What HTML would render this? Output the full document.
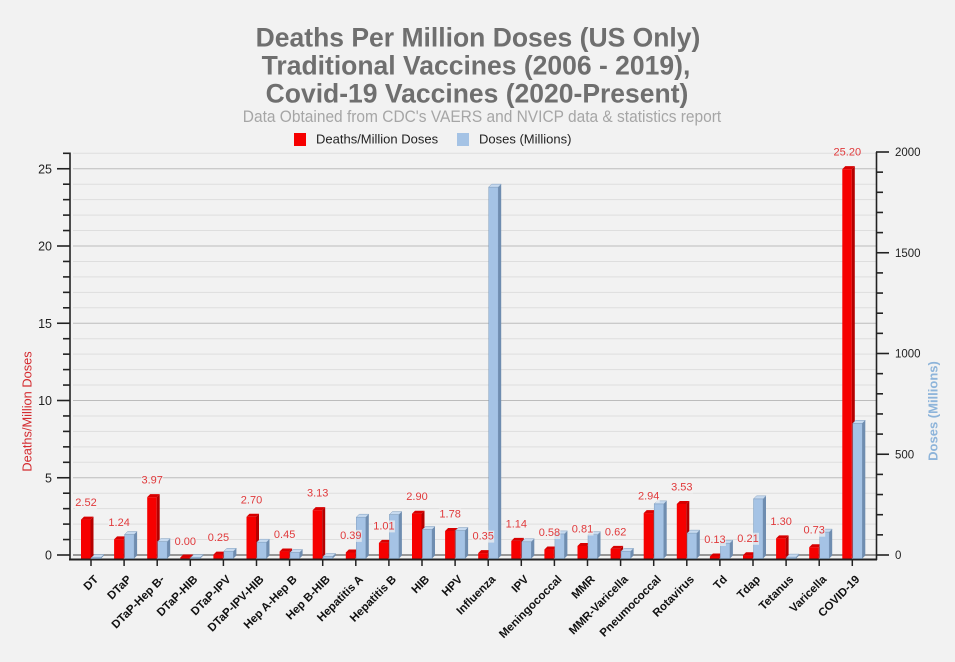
<!DOCTYPE html>
<html><head><meta charset="utf-8"><style>
html,body{margin:0;padding:0;background:#f2f2f2;}
svg{display:block;}
text{font-family:"Liberation Sans",Arial,sans-serif;}
.t{font-size:26.5px;font-weight:bold;fill:#6f6f6f;}
.sub{font-size:15.5px;fill:#a6a6a6;}
.lg{font-size:13px;fill:#222;}
.ax{font-size:12.5px;fill:#222;}
.axr{font-size:11.5px;fill:#222;}
.xl{font-size:11.5px;font-weight:bold;fill:#111;}
.vl{font-size:11px;fill:#e0393b;text-anchor:middle;}
.rf{fill:#f60000;}
.rs{fill:#b50000;}
.rt{fill:#d80000;}
.bf{fill:#a5c3e5;stroke:#7f9dbd;stroke-width:0.5;}
.bs{fill:#6f8db0;}
.bt{fill:#c7daef;stroke:#7f9dbd;stroke-width:0.5;}
.lb{fill:#f2f2f2;opacity:0.7;}
</style></head><body>
<svg width="955" height="662" viewBox="0 0 955 662" xmlns="http://www.w3.org/2000/svg">
<rect width="955" height="662" fill="#f2f2f2"/>
<!-- titles -->
<text class="t" x="478" y="46.5" text-anchor="middle">Deaths Per Million Doses (US Only)</text>
<text class="t" x="476" y="74.5" text-anchor="middle">Traditional Vaccines (2006 - 2019),</text>
<text class="t" x="477" y="102.5" text-anchor="middle">Covid-19 Vaccines (2020-Present)</text>
<text class="sub" transform="translate(482,122) scale(1,1.1)" text-anchor="middle">Data Obtained from CDC's VAERS and NVICP data &amp; statistics report</text>
<!-- legend -->
<rect x="294" y="133" width="12" height="13" fill="#f60000"/>
<text class="lg" x="316" y="143.5">Deaths/Million Doses</text>
<rect x="457" y="133" width="12" height="13" fill="#a5c3e5"/>
<text class="lg" x="479" y="143.5">Doses (Millions)</text>

<!-- gridlines -->
<g stroke-width="1">
<line x1="73" x2="876" y1="153.3" y2="153.3" stroke="#dedede"/>
<line x1="73" x2="876" y1="168.75" y2="168.75" stroke="#bcbcbc"/>
<line x1="73" x2="876" y1="184.2" y2="184.2" stroke="#dedede"/>
<line x1="73" x2="876" y1="199.65" y2="199.65" stroke="#dedede"/>
<line x1="73" x2="876" y1="215.1" y2="215.1" stroke="#dedede"/>
<line x1="73" x2="876" y1="230.55" y2="230.55" stroke="#dedede"/>
<line x1="73" x2="876" y1="246" y2="246" stroke="#bcbcbc"/>
<line x1="73" x2="876" y1="261.45" y2="261.45" stroke="#dedede"/>
<line x1="73" x2="876" y1="276.9" y2="276.9" stroke="#dedede"/>
<line x1="73" x2="876" y1="292.35" y2="292.35" stroke="#dedede"/>
<line x1="73" x2="876" y1="307.8" y2="307.8" stroke="#dedede"/>
<line x1="73" x2="876" y1="323.25" y2="323.25" stroke="#bcbcbc"/>
<line x1="73" x2="876" y1="338.7" y2="338.7" stroke="#dedede"/>
<line x1="73" x2="876" y1="354.15" y2="354.15" stroke="#dedede"/>
<line x1="73" x2="876" y1="369.6" y2="369.6" stroke="#dedede"/>
<line x1="73" x2="876" y1="385.05" y2="385.05" stroke="#dedede"/>
<line x1="73" x2="876" y1="400.5" y2="400.5" stroke="#bcbcbc"/>
<line x1="73" x2="876" y1="415.95" y2="415.95" stroke="#dedede"/>
<line x1="73" x2="876" y1="431.4" y2="431.4" stroke="#dedede"/>
<line x1="73" x2="876" y1="446.85" y2="446.85" stroke="#dedede"/>
<line x1="73" x2="876" y1="462.3" y2="462.3" stroke="#dedede"/>
<line x1="73" x2="876" y1="477.75" y2="477.75" stroke="#bcbcbc"/>
<line x1="73" x2="876" y1="493.2" y2="493.2" stroke="#dedede"/>
<line x1="73" x2="876" y1="508.65" y2="508.65" stroke="#dedede"/>
<line x1="73" x2="876" y1="524.1" y2="524.1" stroke="#dedede"/>
<line x1="73" x2="876" y1="539.55" y2="539.55" stroke="#dedede"/>
<line x1="73" x2="876" y1="555" y2="555" stroke="#7a7a7a" stroke-width="1.5"/>
</g>

<!-- left axis -->
<g stroke="#222" stroke-width="1.6">
<line x1="70" x2="70" y1="152.5" y2="560"/>
<line x1="57" x2="70" y1="168.75" y2="168.75"/>
<line x1="57" x2="70" y1="246" y2="246"/>
<line x1="57" x2="70" y1="323.25" y2="323.25"/>
<line x1="57" x2="70" y1="400.5" y2="400.5"/>
<line x1="57" x2="70" y1="477.75" y2="477.75"/>
<line x1="57" x2="70" y1="555" y2="555"/>
<line x1="63" x2="70" y1="153.3" y2="153.3"/>
<line x1="63" x2="70" y1="184.2" y2="184.2"/>
<line x1="63" x2="70" y1="199.65" y2="199.65"/>
<line x1="63" x2="70" y1="215.1" y2="215.1"/>
<line x1="63" x2="70" y1="230.55" y2="230.55"/>
<line x1="63" x2="70" y1="261.45" y2="261.45"/>
<line x1="63" x2="70" y1="276.9" y2="276.9"/>
<line x1="63" x2="70" y1="292.35" y2="292.35"/>
<line x1="63" x2="70" y1="307.8" y2="307.8"/>
<line x1="63" x2="70" y1="338.7" y2="338.7"/>
<line x1="63" x2="70" y1="354.15" y2="354.15"/>
<line x1="63" x2="70" y1="369.6" y2="369.6"/>
<line x1="63" x2="70" y1="385.05" y2="385.05"/>
<line x1="63" x2="70" y1="415.95" y2="415.95"/>
<line x1="63" x2="70" y1="431.4" y2="431.4"/>
<line x1="63" x2="70" y1="446.85" y2="446.85"/>
<line x1="63" x2="70" y1="462.3" y2="462.3"/>
<line x1="63" x2="70" y1="493.2" y2="493.2"/>
<line x1="63" x2="70" y1="508.65" y2="508.65"/>
<line x1="63" x2="70" y1="524.1" y2="524.1"/>
<line x1="63" x2="70" y1="539.55" y2="539.55"/>
</g>
<g class="ax" text-anchor="end">
<text x="52" y="173.25" class="ax">25</text>
<text x="52" y="250.5" class="ax">20</text>
<text x="52" y="327.75" class="ax">15</text>
<text x="52" y="405" class="ax">10</text>
<text x="52" y="482.25" class="ax">5</text>
<text x="52" y="559.5" class="ax">0</text>
</g>

<!-- right axis -->
<g stroke="#222" stroke-width="1.6">
<line x1="876.5" x2="876.5" y1="152" y2="560"/>
<line x1="876" x2="889" y1="152" y2="152"/>
<line x1="876" x2="889" y1="252.75" y2="252.75"/>
<line x1="876" x2="889" y1="353.5" y2="353.5"/>
<line x1="876" x2="889" y1="454.25" y2="454.25"/>
<line x1="876" x2="889" y1="555" y2="555"/>
<line x1="876" x2="883" y1="172.15" y2="172.15"/>
<line x1="876" x2="883" y1="192.3" y2="192.3"/>
<line x1="876" x2="883" y1="212.45" y2="212.45"/>
<line x1="876" x2="883" y1="232.6" y2="232.6"/>
<line x1="876" x2="883" y1="272.9" y2="272.9"/>
<line x1="876" x2="883" y1="293.05" y2="293.05"/>
<line x1="876" x2="883" y1="313.2" y2="313.2"/>
<line x1="876" x2="883" y1="333.35" y2="333.35"/>
<line x1="876" x2="883" y1="373.65" y2="373.65"/>
<line x1="876" x2="883" y1="393.8" y2="393.8"/>
<line x1="876" x2="883" y1="413.95" y2="413.95"/>
<line x1="876" x2="883" y1="434.1" y2="434.1"/>
<line x1="876" x2="883" y1="474.4" y2="474.4"/>
<line x1="876" x2="883" y1="494.55" y2="494.55"/>
<line x1="876" x2="883" y1="514.7" y2="514.7"/>
<line x1="876" x2="883" y1="534.85" y2="534.85"/>
</g>
<text x="895" y="156" class="axr">2000</text>
<text x="895" y="256.75" class="axr">1500</text>
<text x="895" y="357.5" class="axr">1000</text>
<text x="895" y="458.25" class="axr">500</text>
<text x="895" y="559" class="axr">0</text>

<!-- axis titles -->
<text transform="translate(31.5,411.5) rotate(-90)" text-anchor="middle" style="font-size:12.8px;fill:#d42a2f;">Deaths/Million Doses</text>
<text transform="translate(937.5,411) rotate(-90)" text-anchor="middle" style="font-size:13px;font-weight:bold;fill:#8db4da;">Doses (Millions)</text>

<!-- bottom axis -->
<line x1="69" x2="877" y1="559.5" y2="559.5" stroke="#222" stroke-width="2"/>

<!-- categories -->
<g transform="translate(91,0)">
<rect class="rf" x="-10" y="519.57" width="9.5" height="38.93"/><path class="rs" d="M-0.5,519.57 l3,-3 V555.5 l-3,3 Z"/><path class="rt" d="M-10,519.57 l3,-3 h9.5 l-3,3 Z"/>
<rect class="bf" x="0.5" y="557.5" width="9.5" height="1"/><path class="bs" d="M10,557.5 l3,-3 V555.5 l-3,3 Z"/><path class="bt" d="M0.5,557.5 l3,-3 h9.5 l-3,3 Z"/>
<line x1="0" x2="0" y1="560" y2="566" stroke="#222" stroke-width="1.5"/>
<rect class="lb" x="-16" y="497" width="22" height="12"/><text class="vl" x="-5" y="506.07">2.52</text>
<text class="xl" transform="translate(8,580) rotate(-45)" text-anchor="end">DT</text>
</g>
<g transform="translate(124.1,0)">
<rect class="rf" x="-10" y="539.34" width="9.5" height="19.16"/><path class="rs" d="M-0.5,539.34 l3,-3 V555.5 l-3,3 Z"/><path class="rt" d="M-10,539.34 l3,-3 h9.5 l-3,3 Z"/>
<rect class="bf" x="0.5" y="534.52" width="9.5" height="23.98"/><path class="bs" d="M10,534.52 l3,-3 V555.5 l-3,3 Z"/><path class="bt" d="M0.5,534.52 l3,-3 h9.5 l-3,3 Z"/>
<line x1="0" x2="0" y1="560" y2="566" stroke="#222" stroke-width="1.5"/>
<rect class="lb" x="-16" y="516.8" width="22" height="12"/><text class="vl" x="-5" y="525.84">1.24</text>
<text class="xl" transform="translate(8,580) rotate(-45)" text-anchor="end">DTaP</text>
</g>
<g transform="translate(157.2,0)">
<rect class="rf" x="-10" y="497.16" width="9.5" height="61.34"/><path class="rs" d="M-0.5,497.16 l3,-3 V555.5 l-3,3 Z"/><path class="rt" d="M-10,497.16 l3,-3 h9.5 l-3,3 Z"/>
<rect class="bf" x="0.5" y="541.57" width="9.5" height="16.93"/><path class="bs" d="M10,541.57 l3,-3 V555.5 l-3,3 Z"/><path class="bt" d="M0.5,541.57 l3,-3 h9.5 l-3,3 Z"/>
<line x1="0" x2="0" y1="560" y2="566" stroke="#222" stroke-width="1.5"/>
<rect class="lb" x="-16" y="474.6" width="22" height="12"/><text class="vl" x="-5" y="483.66">3.97</text>
<text class="xl" transform="translate(8,580) rotate(-45)" text-anchor="end">DTaP-Hep B-</text>
</g>
<g transform="translate(190.3,0)">
<rect class="rf" x="-10" y="557.5" width="9.5" height="1"/><path class="rs" d="M-0.5,557.5 l3,-3 V555.5 l-3,3 Z"/><path class="rt" d="M-10,557.5 l3,-3 h9.5 l-3,3 Z"/>
<rect class="bf" x="0.5" y="557.5" width="9.5" height="1"/><path class="bs" d="M10,557.5 l3,-3 V555.5 l-3,3 Z"/><path class="bt" d="M0.5,557.5 l3,-3 h9.5 l-3,3 Z"/>
<line x1="0" x2="0" y1="560" y2="566" stroke="#222" stroke-width="1.5"/>
<rect class="lb" x="-16" y="536" width="22" height="12"/><text class="vl" x="-5" y="545">0.00</text>
<text class="xl" transform="translate(8,580) rotate(-45)" text-anchor="end">DTaP-HIB</text>
</g>
<g transform="translate(223.4,0)">
<rect class="rf" x="-10" y="554.64" width="9.5" height="3.86"/><path class="rs" d="M-0.5,554.64 l3,-3 V555.5 l-3,3 Z"/><path class="rt" d="M-10,554.64 l3,-3 h9.5 l-3,3 Z"/>
<rect class="bf" x="0.5" y="551.25" width="9.5" height="7.25"/><path class="bs" d="M10,551.25 l3,-3 V555.5 l-3,3 Z"/><path class="bt" d="M0.5,551.25 l3,-3 h9.5 l-3,3 Z"/>
<line x1="0" x2="0" y1="560" y2="566" stroke="#222" stroke-width="1.5"/>
<rect class="lb" x="-16" y="532.1" width="22" height="12"/><text class="vl" x="-5" y="541.14">0.25</text>
<text class="xl" transform="translate(8,580) rotate(-45)" text-anchor="end">DTaP-IPV</text>
</g>
<g transform="translate(256.5,0)">
<rect class="rf" x="-10" y="516.78" width="9.5" height="41.72"/><path class="rs" d="M-0.5,516.78 l3,-3 V555.5 l-3,3 Z"/><path class="rt" d="M-10,516.78 l3,-3 h9.5 l-3,3 Z"/>
<rect class="bf" x="0.5" y="542.18" width="9.5" height="16.32"/><path class="bs" d="M10,542.18 l3,-3 V555.5 l-3,3 Z"/><path class="bt" d="M0.5,542.18 l3,-3 h9.5 l-3,3 Z"/>
<line x1="0" x2="0" y1="560" y2="566" stroke="#222" stroke-width="1.5"/>
<rect class="lb" x="-16" y="494.2" width="22" height="12"/><text class="vl" x="-5" y="503.28">2.70</text>
<text class="xl" transform="translate(8,580) rotate(-45)" text-anchor="end">DTaP-IPV-HIB</text>
</g>
<g transform="translate(289.6,0)">
<rect class="rf" x="-10" y="551.55" width="9.5" height="6.95"/><path class="rs" d="M-0.5,551.55 l3,-3 V555.5 l-3,3 Z"/><path class="rt" d="M-10,551.55 l3,-3 h9.5 l-3,3 Z"/>
<rect class="bf" x="0.5" y="552.45" width="9.5" height="6.05"/><path class="bs" d="M10,552.45 l3,-3 V555.5 l-3,3 Z"/><path class="bt" d="M0.5,552.45 l3,-3 h9.5 l-3,3 Z"/>
<line x1="0" x2="0" y1="560" y2="566" stroke="#222" stroke-width="1.5"/>
<rect class="lb" x="-16" y="529" width="22" height="12"/><text class="vl" x="-5" y="538.05">0.45</text>
<text class="xl" transform="translate(8,580) rotate(-45)" text-anchor="end">Hep A-Hep B</text>
</g>
<g transform="translate(322.7,0)">
<rect class="rf" x="-10" y="510.14" width="9.5" height="48.36"/><path class="rs" d="M-0.5,510.14 l3,-3 V555.5 l-3,3 Z"/><path class="rt" d="M-10,510.14 l3,-3 h9.5 l-3,3 Z"/>
<rect class="bf" x="0.5" y="556.48" width="9.5" height="2.02"/><path class="bs" d="M10,556.48 l3,-3 V555.5 l-3,3 Z"/><path class="bt" d="M0.5,556.48 l3,-3 h9.5 l-3,3 Z"/>
<line x1="0" x2="0" y1="560" y2="566" stroke="#222" stroke-width="1.5"/>
<rect class="lb" x="-16" y="487.6" width="22" height="12"/><text class="vl" x="-5" y="496.64">3.13</text>
<text class="xl" transform="translate(8,580) rotate(-45)" text-anchor="end">Hep B-HIB</text>
</g>
<g transform="translate(355.8,0)">
<rect class="rf" x="-10" y="552.47" width="9.5" height="6.03"/><path class="rs" d="M-0.5,552.47 l3,-3 V555.5 l-3,3 Z"/><path class="rt" d="M-10,552.47 l3,-3 h9.5 l-3,3 Z"/>
<rect class="bf" x="0.5" y="517.19" width="9.5" height="41.31"/><path class="bs" d="M10,517.19 l3,-3 V555.5 l-3,3 Z"/><path class="bt" d="M0.5,517.19 l3,-3 h9.5 l-3,3 Z"/>
<line x1="0" x2="0" y1="560" y2="566" stroke="#222" stroke-width="1.5"/>
<rect class="lb" x="-16" y="529.9" width="22" height="12"/><text class="vl" x="-5" y="538.97">0.39</text>
<text class="xl" transform="translate(8,580) rotate(-45)" text-anchor="end">Hepatitis A</text>
</g>
<g transform="translate(388.9,0)">
<rect class="rf" x="-10" y="542.9" width="9.5" height="15.6"/><path class="rs" d="M-0.5,542.9 l3,-3 V555.5 l-3,3 Z"/><path class="rt" d="M-10,542.9 l3,-3 h9.5 l-3,3 Z"/>
<rect class="bf" x="0.5" y="514.57" width="9.5" height="43.93"/><path class="bs" d="M10,514.57 l3,-3 V555.5 l-3,3 Z"/><path class="bt" d="M0.5,514.57 l3,-3 h9.5 l-3,3 Z"/>
<line x1="0" x2="0" y1="560" y2="566" stroke="#222" stroke-width="1.5"/>
<rect class="lb" x="-16" y="520.4" width="22" height="12"/><text class="vl" x="-5" y="529.4">1.01</text>
<text class="xl" transform="translate(8,580) rotate(-45)" text-anchor="end">Hepatitis B</text>
</g>
<g transform="translate(422,0)">
<rect class="rf" x="-10" y="513.69" width="9.5" height="44.81"/><path class="rs" d="M-0.5,513.69 l3,-3 V555.5 l-3,3 Z"/><path class="rt" d="M-10,513.69 l3,-3 h9.5 l-3,3 Z"/>
<rect class="bf" x="0.5" y="529.48" width="9.5" height="29.02"/><path class="bs" d="M10,529.48 l3,-3 V555.5 l-3,3 Z"/><path class="bt" d="M0.5,529.48 l3,-3 h9.5 l-3,3 Z"/>
<line x1="0" x2="0" y1="560" y2="566" stroke="#222" stroke-width="1.5"/>
<rect class="lb" x="-16" y="491.1" width="22" height="12"/><text class="vl" x="-5" y="500.19">2.90</text>
<text class="xl" transform="translate(8,580) rotate(-45)" text-anchor="end">HIB</text>
</g>
<g transform="translate(455.1,0)">
<rect class="rf" x="-10" y="531" width="9.5" height="27.5"/><path class="rs" d="M-0.5,531 l3,-3 V555.5 l-3,3 Z"/><path class="rt" d="M-10,531 l3,-3 h9.5 l-3,3 Z"/>
<rect class="bf" x="0.5" y="530.49" width="9.5" height="28.01"/><path class="bs" d="M10,530.49 l3,-3 V555.5 l-3,3 Z"/><path class="bt" d="M0.5,530.49 l3,-3 h9.5 l-3,3 Z"/>
<line x1="0" x2="0" y1="560" y2="566" stroke="#222" stroke-width="1.5"/>
<rect class="lb" x="-16" y="508.5" width="22" height="12"/><text class="vl" x="-5" y="517.5">1.78</text>
<text class="xl" transform="translate(8,580) rotate(-45)" text-anchor="end">HPV</text>
</g>
<g transform="translate(488.2,0)">
<rect class="rf" x="-10" y="553.09" width="9.5" height="5.41"/><path class="rs" d="M-0.5,553.09 l3,-3 V555.5 l-3,3 Z"/><path class="rt" d="M-10,553.09 l3,-3 h9.5 l-3,3 Z"/>
<rect class="bf" x="0.5" y="187.14" width="9.5" height="371.36"/><path class="bs" d="M10,187.14 l3,-3 V555.5 l-3,3 Z"/><path class="bt" d="M0.5,187.14 l3,-3 h9.5 l-3,3 Z"/>
<line x1="0" x2="0" y1="560" y2="566" stroke="#222" stroke-width="1.5"/>
<rect class="lb" x="-16" y="530.6" width="22" height="12"/><text class="vl" x="-5" y="539.59">0.35</text>
<text class="xl" transform="translate(8,580) rotate(-45)" text-anchor="end">Influenza</text>
</g>
<g transform="translate(521.3,0)">
<rect class="rf" x="-10" y="540.89" width="9.5" height="17.61"/><path class="rs" d="M-0.5,540.89 l3,-3 V555.5 l-3,3 Z"/><path class="rt" d="M-10,540.89 l3,-3 h9.5 l-3,3 Z"/>
<rect class="bf" x="0.5" y="541.78" width="9.5" height="16.72"/><path class="bs" d="M10,541.78 l3,-3 V555.5 l-3,3 Z"/><path class="bt" d="M0.5,541.78 l3,-3 h9.5 l-3,3 Z"/>
<line x1="0" x2="0" y1="560" y2="566" stroke="#222" stroke-width="1.5"/>
<rect class="lb" x="-16" y="518.4" width="22" height="12"/><text class="vl" x="-5" y="527.39">1.14</text>
<text class="xl" transform="translate(8,580) rotate(-45)" text-anchor="end">IPV</text>
</g>
<g transform="translate(554.4,0)">
<rect class="rf" x="-10" y="549.54" width="9.5" height="8.96"/><path class="rs" d="M-0.5,549.54 l3,-3 V555.5 l-3,3 Z"/><path class="rt" d="M-10,549.54 l3,-3 h9.5 l-3,3 Z"/>
<rect class="bf" x="0.5" y="533.92" width="9.5" height="24.58"/><path class="bs" d="M10,533.92 l3,-3 V555.5 l-3,3 Z"/><path class="bt" d="M0.5,533.92 l3,-3 h9.5 l-3,3 Z"/>
<line x1="0" x2="0" y1="560" y2="566" stroke="#222" stroke-width="1.5"/>
<rect class="lb" x="-16" y="527" width="22" height="12"/><text class="vl" x="-5" y="536.04">0.58</text>
<text class="xl" transform="translate(8,580) rotate(-45)" text-anchor="end">Meningococcal</text>
</g>
<g transform="translate(587.5,0)">
<rect class="rf" x="-10" y="545.99" width="9.5" height="12.51"/><path class="rs" d="M-0.5,545.99 l3,-3 V555.5 l-3,3 Z"/><path class="rt" d="M-10,545.99 l3,-3 h9.5 l-3,3 Z"/>
<rect class="bf" x="0.5" y="534.72" width="9.5" height="23.78"/><path class="bs" d="M10,534.72 l3,-3 V555.5 l-3,3 Z"/><path class="bt" d="M0.5,534.72 l3,-3 h9.5 l-3,3 Z"/>
<line x1="0" x2="0" y1="560" y2="566" stroke="#222" stroke-width="1.5"/>
<rect class="lb" x="-16" y="523.5" width="22" height="12"/><text class="vl" x="-5" y="532.49">0.81</text>
<text class="xl" transform="translate(8,580) rotate(-45)" text-anchor="end">MMR</text>
</g>
<g transform="translate(620.6,0)">
<rect class="rf" x="-10" y="548.92" width="9.5" height="9.58"/><path class="rs" d="M-0.5,548.92 l3,-3 V555.5 l-3,3 Z"/><path class="rt" d="M-10,548.92 l3,-3 h9.5 l-3,3 Z"/>
<rect class="bf" x="0.5" y="551.25" width="9.5" height="7.25"/><path class="bs" d="M10,551.25 l3,-3 V555.5 l-3,3 Z"/><path class="bt" d="M0.5,551.25 l3,-3 h9.5 l-3,3 Z"/>
<line x1="0" x2="0" y1="560" y2="566" stroke="#222" stroke-width="1.5"/>
<rect class="lb" x="-16" y="526.4" width="22" height="12"/><text class="vl" x="-5" y="535.42">0.62</text>
<text class="xl" transform="translate(8,580) rotate(-45)" text-anchor="end">MMR-Varicella</text>
</g>
<g transform="translate(653.7,0)">
<rect class="rf" x="-10" y="513.08" width="9.5" height="45.42"/><path class="rs" d="M-0.5,513.08 l3,-3 V555.5 l-3,3 Z"/><path class="rt" d="M-10,513.08 l3,-3 h9.5 l-3,3 Z"/>
<rect class="bf" x="0.5" y="503.89" width="9.5" height="54.61"/><path class="bs" d="M10,503.89 l3,-3 V555.5 l-3,3 Z"/><path class="bt" d="M0.5,503.89 l3,-3 h9.5 l-3,3 Z"/>
<line x1="0" x2="0" y1="560" y2="566" stroke="#222" stroke-width="1.5"/>
<rect class="lb" x="-16" y="490.6" width="22" height="12"/><text class="vl" x="-5" y="499.58">2.94</text>
<text class="xl" transform="translate(8,580) rotate(-45)" text-anchor="end">Pneumococcal</text>
</g>
<g transform="translate(686.8,0)">
<rect class="rf" x="-10" y="503.96" width="9.5" height="54.54"/><path class="rs" d="M-0.5,503.96 l3,-3 V555.5 l-3,3 Z"/><path class="rt" d="M-10,503.96 l3,-3 h9.5 l-3,3 Z"/>
<rect class="bf" x="0.5" y="533.11" width="9.5" height="25.39"/><path class="bs" d="M10,533.11 l3,-3 V555.5 l-3,3 Z"/><path class="bt" d="M0.5,533.11 l3,-3 h9.5 l-3,3 Z"/>
<line x1="0" x2="0" y1="560" y2="566" stroke="#222" stroke-width="1.5"/>
<rect class="lb" x="-16" y="481.4" width="22" height="12"/><text class="vl" x="-5" y="490.46">3.53</text>
<text class="xl" transform="translate(8,580) rotate(-45)" text-anchor="end">Rotavirus</text>
</g>
<g transform="translate(719.9,0)">
<rect class="rf" x="-10" y="556.49" width="9.5" height="2.01"/><path class="rs" d="M-0.5,556.49 l3,-3 V555.5 l-3,3 Z"/><path class="rt" d="M-10,556.49 l3,-3 h9.5 l-3,3 Z"/>
<rect class="bf" x="0.5" y="543.19" width="9.5" height="15.31"/><path class="bs" d="M10,543.19 l3,-3 V555.5 l-3,3 Z"/><path class="bt" d="M0.5,543.19 l3,-3 h9.5 l-3,3 Z"/>
<line x1="0" x2="0" y1="560" y2="566" stroke="#222" stroke-width="1.5"/>
<rect class="lb" x="-16" y="534" width="22" height="12"/><text class="vl" x="-5" y="542.99">0.13</text>
<text class="xl" transform="translate(8,580) rotate(-45)" text-anchor="end">Td</text>
</g>
<g transform="translate(753,0)">
<rect class="rf" x="-10" y="555.26" width="9.5" height="3.24"/><path class="rs" d="M-0.5,555.26 l3,-3 V555.5 l-3,3 Z"/><path class="rt" d="M-10,555.26 l3,-3 h9.5 l-3,3 Z"/>
<rect class="bf" x="0.5" y="498.86" width="9.5" height="59.64"/><path class="bs" d="M10,498.86 l3,-3 V555.5 l-3,3 Z"/><path class="bt" d="M0.5,498.86 l3,-3 h9.5 l-3,3 Z"/>
<line x1="0" x2="0" y1="560" y2="566" stroke="#222" stroke-width="1.5"/>
<rect class="lb" x="-16" y="532.8" width="22" height="12"/><text class="vl" x="-5" y="541.76">0.21</text>
<text class="xl" transform="translate(8,580) rotate(-45)" text-anchor="end">Tdap</text>
</g>
<g transform="translate(786.1,0)">
<rect class="rf" x="-10" y="538.41" width="9.5" height="20.09"/><path class="rs" d="M-0.5,538.41 l3,-3 V555.5 l-3,3 Z"/><path class="rt" d="M-10,538.41 l3,-3 h9.5 l-3,3 Z"/>
<rect class="bf" x="0.5" y="557.09" width="9.5" height="1.41"/><path class="bs" d="M10,557.09 l3,-3 V555.5 l-3,3 Z"/><path class="bt" d="M0.5,557.09 l3,-3 h9.5 l-3,3 Z"/>
<line x1="0" x2="0" y1="560" y2="566" stroke="#222" stroke-width="1.5"/>
<rect class="lb" x="-16" y="515.9" width="22" height="12"/><text class="vl" x="-5" y="524.91">1.30</text>
<text class="xl" transform="translate(8,580) rotate(-45)" text-anchor="end">Tetanus</text>
</g>
<g transform="translate(819.2,0)">
<rect class="rf" x="-10" y="547.22" width="9.5" height="11.28"/><path class="rs" d="M-0.5,547.22 l3,-3 V555.5 l-3,3 Z"/><path class="rt" d="M-10,547.22 l3,-3 h9.5 l-3,3 Z"/>
<rect class="bf" x="0.5" y="532.1" width="9.5" height="26.4"/><path class="bs" d="M10,532.1 l3,-3 V555.5 l-3,3 Z"/><path class="bt" d="M0.5,532.1 l3,-3 h9.5 l-3,3 Z"/>
<line x1="0" x2="0" y1="560" y2="566" stroke="#222" stroke-width="1.5"/>
<rect class="lb" x="-16" y="524.7" width="22" height="12"/><text class="vl" x="-5" y="533.72">0.73</text>
<text class="xl" transform="translate(8,580) rotate(-45)" text-anchor="end">Varicella</text>
</g>
<g transform="translate(852.3,0)">
<rect class="rf" x="-10" y="169.16" width="9.5" height="389.34"/><path class="rs" d="M-0.5,169.16 l3,-3 V555.5 l-3,3 Z"/><path class="rt" d="M-10,169.16 l3,-3 h9.5 l-3,3 Z"/>
<rect class="bf" x="0.5" y="423.29" width="9.5" height="135.21"/><path class="bs" d="M10,423.29 l3,-3 V555.5 l-3,3 Z"/><path class="bt" d="M0.5,423.29 l3,-3 h9.5 l-3,3 Z"/>
<line x1="0" x2="0" y1="560" y2="566" stroke="#222" stroke-width="1.5"/>
<text class="vl" x="-5" y="155.66">25.20</text>
<text class="xl" transform="translate(8,580) rotate(-45)" text-anchor="end">COVID-19</text>
</g>
</svg>
</body></html>
